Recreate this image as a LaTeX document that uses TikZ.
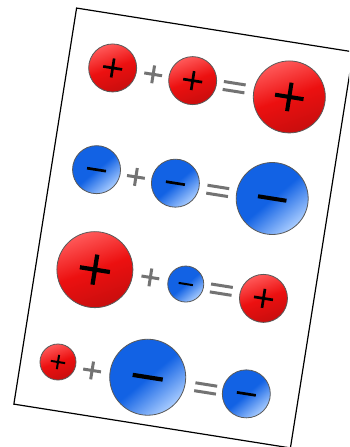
\documentclass[tikz,border=0pt]{standalone}

\definecolor{rougeboule}{RGB}{236,16,16}
\definecolor{bleuboule}{RGB}{18,98,228}
\definecolor{bleuclair}{RGB}{170,205,255}

\tikzset{
  posball/.style={circle, draw=black!65, line width=0.8pt, inner sep=0pt,
    top color=red!65!white, bottom color=rougeboule!85!black,
    middle color=rougeboule, shading angle=20},
  negball/.style={circle, draw=black!65, line width=0.8pt, inner sep=0pt,
    top color=bleuboule, bottom color=bleuclair,
    middle color=bleuboule, shading angle=40},
  sgn/.style={black},
  opsign/.style={black!55, line width=3pt}
}

% charge positive / negative : nom, x, y, rayon
\newcommand{\poschg}[4]{%
  \node[posball, minimum size={2*#4}] (#1) at (#2,#3) {};
  \draw[sgn, line width={#4/9}] ({#2-0.4*#4},#3) -- ({#2+0.4*#4},#3)
    (#2,{#3-0.4*#4}) -- (#2,{#3+0.4*#4});}
\newcommand{\negchg}[4]{%
  \node[negball, minimum size={2*#4}] (#1) at (#2,#3) {};
  \draw[sgn, line width={#4/9}] ({#2-0.4*#4},#3) -- ({#2+0.4*#4},#3);}
% signes + et =
\newcommand{\plussgn}[2]{%
  \draw[opsign] ({#1-9},#2) -- ({#1+9},#2) (#1,{#2-9}) -- (#1,{#2+9});}
\newcommand{\eqsgn}[2]{%
  \draw[opsign] ({#1-11},{#2+4}) -- ({#1+11},{#2+4})
    ({#1-11},{#2-4}) -- ({#1+11},{#2-4});}

\begin{document}
\begin{tikzpicture}[x=1pt, y=1pt]
  \clip (0,0) rectangle (349,447);
  \fill[white] (0,0) rectangle (349,447);

  \begin{scope}[shift={(183.5,219)}, rotate=-9]
    % Carte
    \draw[line width=1.2pt, fill=white] (-140,-200.5) rectangle (140,200.5);

    % + plus + egale +
    \poschg{b11}{-95}{147}{24}
    \plussgn{-54}{147}
    \poschg{b12}{-14}{147}{24}
    \eqsgn{28}{147}
    \poschg{b13}{84}{146}{36}

    % - plus - egale -
    \negchg{b21}{-95}{44}{24}
    \plussgn{-55}{43}
    \negchg{b22}{-15}{43}{24}
    \eqsgn{28}{42}
    \negchg{b23}{83}{43}{36}

    % gros + plus petit - egale +
    \poschg{b31}{-81}{-55}{38}
    \plussgn{-25}{-54}
    \negchg{b32}{11}{-55}{18}
    \eqsgn{47}{-55}
    \poschg{b33}{90}{-57}{24}

    % petit + plus gros - egale -
    \poschg{b41}{-103}{-152}{18}
    \plussgn{-68}{-155}
    \negchg{b42}{-12}{-153}{38}
    \eqsgn{47}{-155}
    \negchg{b43}{88}{-154}{24}
  \end{scope}
\end{tikzpicture}
\end{document}
